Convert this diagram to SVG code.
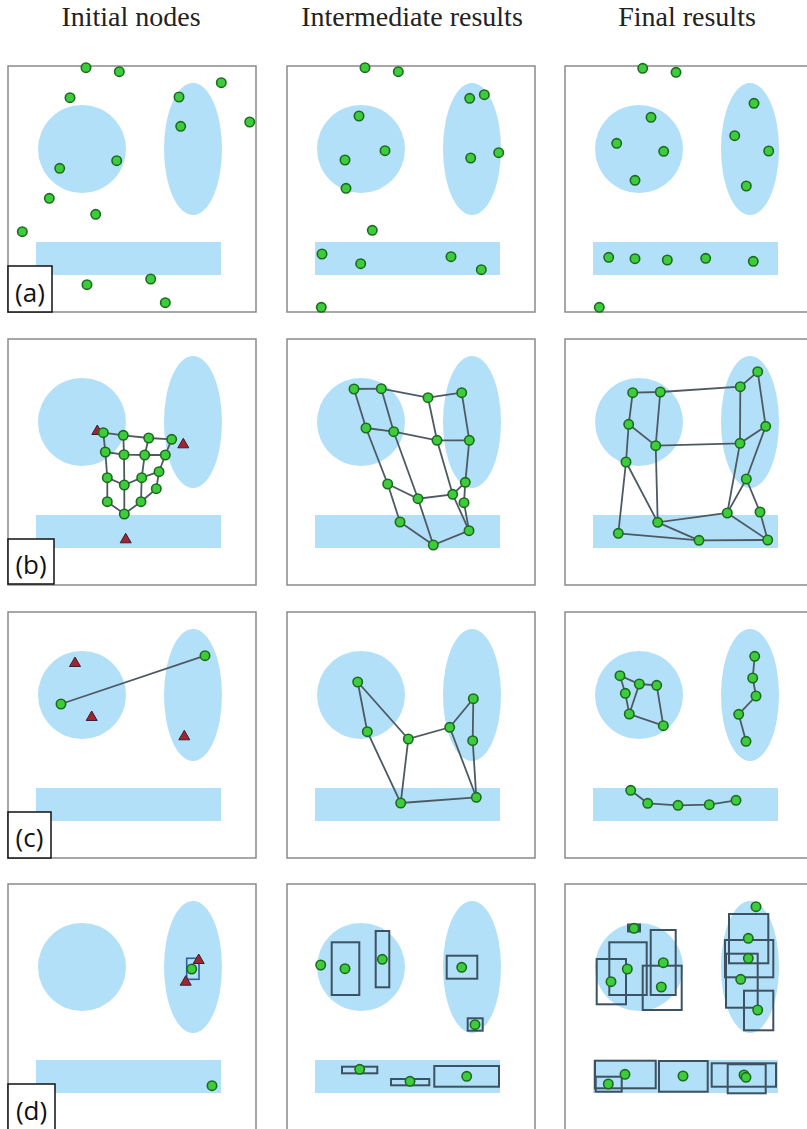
<svg xmlns="http://www.w3.org/2000/svg" xmlns:xlink="http://www.w3.org/1999/xlink" width="807" height="1129" viewBox="0 0 807 1129">
<style>
.hdr{font-family:"Liberation Serif","Times New Roman",serif;font-size:28px;fill:#222;text-anchor:middle}
.lbl{font-family:"Open Sans","Noto Sans",sans-serif;font-size:26px;fill:#111;text-anchor:middle}
.frame{fill:#fff;stroke:#8a8a8a;stroke-width:1.5}
.reg{fill:#b2e0f8}
.lbox{fill:#fff;stroke:#111;stroke-width:1.5}
.nd{fill:#3ccc3c;stroke:#1d6b1d;stroke-width:1.6}
.e{stroke:#4d5a62;stroke-width:1.8;fill:none}
.bx{fill:none;stroke:#3c5262;stroke-width:2}
.bxb{fill:none;stroke:#2f5fa0;stroke-width:1.6}
</style>
<defs>
<g id="bg">
<rect class="frame" x="8" y="66" width="248" height="246"/>
<circle class="reg" cx="82" cy="149" r="44"/>
<ellipse class="reg" cx="193" cy="149" rx="29" ry="66"/>
<rect class="reg" x="36" y="242" width="185" height="33"/>
</g>
<path id="tri" d="M0,-6 L5.5,3.5 L-5.5,3.5 Z" fill="#a3232e" stroke="#3a1f3a" stroke-width="1"/>
</defs>
<rect width="807" height="1129" fill="#fff"/>
<g id="headers">
<text class="hdr" x="131" y="26">Initial nodes</text>
<text class="hdr" x="412" y="26">Intermediate results</text>
<text class="hdr" x="687" y="26">Final results</text>
</g>

<!-- Row a -->
<g id="panel-a1">
<use xlink:href="#bg"/>
<g class="nodes">
<circle class="nd" cx="86" cy="67.7" r="4.7"/><circle class="nd" cx="119.3" cy="71.7" r="4.7"/>
<circle class="nd" cx="70" cy="97.7" r="4.7"/><circle class="nd" cx="221.3" cy="82.7" r="4.7"/>
<circle class="nd" cx="179" cy="97" r="4.7"/><circle class="nd" cx="180.7" cy="126.3" r="4.7"/>
<circle class="nd" cx="249.7" cy="122" r="4.7"/><circle class="nd" cx="116.7" cy="160.7" r="4.7"/>
<circle class="nd" cx="59.7" cy="168.3" r="4.7"/><circle class="nd" cx="49.3" cy="198.3" r="4.7"/>
<circle class="nd" cx="95.7" cy="214.3" r="4.7"/><circle class="nd" cx="22.3" cy="231.7" r="4.7"/>
<circle class="nd" cx="87" cy="284.7" r="4.7"/><circle class="nd" cx="150.7" cy="279" r="4.7"/>
<circle class="nd" cx="165.3" cy="302.7" r="4.7"/>
</g>
<rect class="lbox" x="8" y="266" width="44" height="46"/>
<text class="lbl" x="30" y="302">(a)</text>
</g>
<g id="panel-a2">
<use xlink:href="#bg" transform="translate(279,0)"/>
<g class="nodes">
<circle class="nd" cx="365" cy="67.7" r="4.7"/><circle class="nd" cx="398.3" cy="71.7" r="4.7"/>
<circle class="nd" cx="469.7" cy="98.3" r="4.7"/><circle class="nd" cx="484.3" cy="94.7" r="4.7"/>
<circle class="nd" cx="359" cy="116" r="4.7"/><circle class="nd" cx="385" cy="150.7" r="4.7"/>
<circle class="nd" cx="345" cy="160" r="4.7"/><circle class="nd" cx="470.7" cy="158" r="4.7"/>
<circle class="nd" cx="498.7" cy="152.7" r="4.7"/><circle class="nd" cx="346" cy="188.3" r="4.7"/>
<circle class="nd" cx="372.3" cy="230.3" r="4.7"/><circle class="nd" cx="322" cy="254" r="4.7"/>
<circle class="nd" cx="360.7" cy="263.7" r="4.7"/><circle class="nd" cx="451" cy="256.7" r="4.7"/>
<circle class="nd" cx="481.3" cy="269.7" r="4.7"/><circle class="nd" cx="321.3" cy="307.3" r="4.7"/>
</g>
</g>
<g id="panel-a3">
<use xlink:href="#bg" transform="translate(557,0)"/>
<g class="nodes">
<circle class="nd" cx="642.7" cy="68.3" r="4.7"/><circle class="nd" cx="676" cy="72.3" r="4.7"/>
<circle class="nd" cx="754" cy="103.3" r="4.7"/><circle class="nd" cx="651" cy="117.3" r="4.7"/>
<circle class="nd" cx="616.7" cy="143.3" r="4.7"/><circle class="nd" cx="734.7" cy="135.7" r="4.7"/>
<circle class="nd" cx="663.7" cy="151.3" r="4.7"/><circle class="nd" cx="768.7" cy="151" r="4.7"/>
<circle class="nd" cx="635" cy="180.3" r="4.7"/><circle class="nd" cx="746.3" cy="186" r="4.7"/>
<circle class="nd" cx="608.7" cy="257.3" r="4.7"/><circle class="nd" cx="635" cy="258.7" r="4.7"/>
<circle class="nd" cx="667.3" cy="260" r="4.7"/><circle class="nd" cx="705.7" cy="258.3" r="4.7"/>
<circle class="nd" cx="753.3" cy="261.3" r="4.7"/><circle class="nd" cx="599.3" cy="307.3" r="4.7"/>
</g>
</g>

<!-- Row b -->
<g id="panel-b1">
<use xlink:href="#bg" transform="translate(0,273)"/>
<use xlink:href="#tri" x="97.3" y="431"/>
<use xlink:href="#tri" x="183.3" y="444.3"/>
<use xlink:href="#tri" x="125.7" y="539.3"/>
<g id="edges-b1" class="e">
<polyline points="103.3,432.7 123.3,435.3 148.7,438 171.7,439.3"/>
<polyline points="105.3,452 124,454.7 144.7,455 165.3,455"/>
<line x1="103.3" y1="432.7" x2="105.3" y2="452"/><line x1="123.3" y1="435.3" x2="124" y2="454.7"/>
<line x1="148.7" y1="438" x2="144.7" y2="455"/><line x1="171.7" y1="439.3" x2="165.3" y2="455"/>
<line x1="105.3" y1="452" x2="107.3" y2="477.7"/><line x1="124" y1="454.7" x2="124.3" y2="485"/>
<line x1="144.7" y1="455" x2="141.7" y2="477.7"/><line x1="165.3" y1="455" x2="159" y2="471.7"/>
<polyline points="107.3,477.7 124.3,485 141.7,477.7 159,471.7"/>
<line x1="159" y1="471.7" x2="156.3" y2="488.7"/>
<line x1="107.3" y1="477.7" x2="107.3" y2="501.7"/><line x1="124.3" y1="485" x2="124.3" y2="514"/>
<line x1="141.7" y1="477.7" x2="141" y2="501.7"/><line x1="156.3" y1="488.7" x2="141" y2="501.7"/>
<polyline points="107.3,501.7 124.3,514 141,501.7"/>
</g>
<g class="nodes">
<circle class="nd" cx="103.3" cy="432.7" r="4.7"/><circle class="nd" cx="123.3" cy="435.3" r="4.7"/>
<circle class="nd" cx="148.7" cy="438" r="4.7"/><circle class="nd" cx="171.7" cy="439.3" r="4.7"/>
<circle class="nd" cx="105.3" cy="452" r="4.7"/><circle class="nd" cx="124" cy="454.7" r="4.7"/>
<circle class="nd" cx="144.7" cy="455" r="4.7"/><circle class="nd" cx="165.3" cy="455" r="4.7"/>
<circle class="nd" cx="107.3" cy="477.7" r="4.7"/><circle class="nd" cx="141.7" cy="477.7" r="4.7"/>
<circle class="nd" cx="159" cy="471.7" r="4.7"/><circle class="nd" cx="124.3" cy="485" r="4.7"/>
<circle class="nd" cx="156.3" cy="488.7" r="4.7"/><circle class="nd" cx="107.3" cy="501.7" r="4.7"/>
<circle class="nd" cx="141" cy="501.7" r="4.7"/><circle class="nd" cx="124.3" cy="514" r="4.7"/>
</g>
<rect class="lbox" x="8" y="539" width="46" height="45"/>
<text class="lbl" x="31" y="574">(b)</text>
</g>
<g id="panel-b2">
<use xlink:href="#bg" transform="translate(279,273)"/>
<g id="edges-b2" class="e">
<polyline points="354,389 381.3,388.7 428,397.7 461.7,392.7"/>
<polyline points="366,428 393.7,431.7 437,440.3 469.3,440.3"/>
<line x1="354" y1="389" x2="366" y2="428"/><line x1="381.3" y1="388.7" x2="393.7" y2="431.7"/>
<line x1="428" y1="397.7" x2="437" y2="440.3"/><line x1="461.7" y1="392.7" x2="469.3" y2="440.3"/>
<line x1="366" y1="428" x2="387.7" y2="484"/><line x1="393.7" y1="431.7" x2="418" y2="498.7"/>
<line x1="437" y1="440.3" x2="452.7" y2="494.3"/><line x1="469.3" y1="440.3" x2="465.3" y2="482.3"/>
<polyline points="387.7,484 418,498.7 452.7,494.3 465.3,482.3 464,502.7 469,530.7"/>
<line x1="387.7" y1="484" x2="400" y2="522"/><line x1="418" y1="498.7" x2="433.3" y2="545"/>
<line x1="452.7" y1="494.3" x2="469" y2="530.7"/>
<polyline points="400,522 433.3,545 469,530.7"/>
</g>
<g class="nodes">
<circle class="nd" cx="354" cy="389" r="4.7"/><circle class="nd" cx="381.3" cy="388.7" r="4.7"/>
<circle class="nd" cx="428" cy="397.7" r="4.7"/><circle class="nd" cx="461.7" cy="392.7" r="4.7"/>
<circle class="nd" cx="366" cy="428" r="4.7"/><circle class="nd" cx="393.7" cy="431.7" r="4.7"/>
<circle class="nd" cx="437" cy="440.3" r="4.7"/><circle class="nd" cx="469.3" cy="440.3" r="4.7"/>
<circle class="nd" cx="387.7" cy="484" r="4.7"/><circle class="nd" cx="418" cy="498.7" r="4.7"/>
<circle class="nd" cx="452.7" cy="494.3" r="4.7"/><circle class="nd" cx="465.3" cy="482.3" r="4.7"/>
<circle class="nd" cx="464" cy="502.7" r="4.7"/><circle class="nd" cx="400" cy="522" r="4.7"/>
<circle class="nd" cx="469" cy="530.7" r="4.7"/><circle class="nd" cx="433.3" cy="545" r="4.7"/>
</g>
</g>
<g id="panel-b3">
<use xlink:href="#bg" transform="translate(557,273)"/>
<g id="edges-b3" class="e">
<polyline points="632.7,392.7 660.3,392 740.3,386.7 757.7,371.7"/>
<polyline points="628.7,424.3 655.7,445.7 740,443.3 765.7,426.3"/>
<line x1="632.7" y1="392.7" x2="628.7" y2="424.3"/><line x1="660.3" y1="392" x2="655.7" y2="445.7"/>
<line x1="740.3" y1="386.7" x2="740" y2="443.3"/><line x1="757.7" y1="371.7" x2="765.7" y2="426.3"/>
<line x1="628.7" y1="424.3" x2="626" y2="462"/><line x1="655.7" y1="445.7" x2="657.7" y2="522.3"/>
<line x1="740" y1="443.3" x2="727.3" y2="513"/><line x1="765.7" y1="426.3" x2="746.3" y2="479"/>
<polyline points="626,462 657.7,522.3 727.3,513 746.3,479 760,512 767.7,540"/>
<line x1="626" y1="462" x2="618.3" y2="533.3"/><line x1="657.7" y1="522.3" x2="699" y2="540.3"/>
<line x1="727.3" y1="513" x2="767.7" y2="540"/>
<polyline points="618.3,533.3 699,540.3 767.7,540"/>
</g>
<g class="nodes">
<circle class="nd" cx="632.7" cy="392.7" r="4.7"/><circle class="nd" cx="660.3" cy="392" r="4.7"/>
<circle class="nd" cx="740.3" cy="386.7" r="4.7"/><circle class="nd" cx="757.7" cy="371.7" r="4.7"/>
<circle class="nd" cx="628.7" cy="424.3" r="4.7"/><circle class="nd" cx="655.7" cy="445.7" r="4.7"/>
<circle class="nd" cx="740" cy="443.3" r="4.7"/><circle class="nd" cx="765.7" cy="426.3" r="4.7"/>
<circle class="nd" cx="626" cy="462" r="4.7"/><circle class="nd" cx="657.7" cy="522.3" r="4.7"/>
<circle class="nd" cx="727.3" cy="513" r="4.7"/><circle class="nd" cx="746.3" cy="479" r="4.7"/>
<circle class="nd" cx="760" cy="512" r="4.7"/><circle class="nd" cx="618.3" cy="533.3" r="4.7"/>
<circle class="nd" cx="699" cy="540.3" r="4.7"/><circle class="nd" cx="767.7" cy="540" r="4.7"/>
</g>
</g>

<!-- Row c -->
<g id="panel-c1">
<use xlink:href="#bg" transform="translate(0,546)"/>
<use xlink:href="#tri" x="75" y="663"/>
<use xlink:href="#tri" x="91.7" y="717"/>
<use xlink:href="#tri" x="184.3" y="736.3"/>
<g id="edges-c1" class="e"><line x1="61" y1="704" x2="205" y2="655.7"/></g>
<g class="nodes">
<circle class="nd" cx="61" cy="704" r="4.7"/><circle class="nd" cx="205" cy="655.7" r="4.7"/>
</g>
<rect class="lbox" x="8" y="812" width="43" height="46"/>
<text class="lbl" x="29.5" y="847">(c)</text>
</g>
<g id="panel-c2">
<use xlink:href="#bg" transform="translate(279,546)"/>
<g id="edges-c2" class="e">
<polyline points="408.3,739 357.7,682 367.3,731.7 400.7,803 408.3,739 449.7,727.3 473.3,698.7 472.7,740.7 476.3,797.3 449.7,727.3"/>
<line x1="400.7" y1="803" x2="476.3" y2="797.3"/>
</g>
<g class="nodes">
<circle class="nd" cx="357.7" cy="682" r="4.7"/><circle class="nd" cx="367.3" cy="731.7" r="4.7"/>
<circle class="nd" cx="408.3" cy="739" r="4.7"/><circle class="nd" cx="449.7" cy="727.3" r="4.7"/>
<circle class="nd" cx="473.3" cy="698.7" r="4.7"/><circle class="nd" cx="472.7" cy="740.7" r="4.7"/>
<circle class="nd" cx="400.7" cy="803" r="4.7"/><circle class="nd" cx="476.3" cy="797.3" r="4.7"/>
</g>
</g>
<g id="panel-c3">
<use xlink:href="#bg" transform="translate(557,546)"/>
<g id="edges-c3" class="e">
<polyline points="625.3,693.3 620,675.7 639.3,684 656.7,685.3 663.3,725.7 629.3,714 625.3,693.3"/>
<line x1="639.3" y1="684" x2="629.3" y2="714"/>
<polyline points="754.7,656.3 752.7,678 756,696 738.7,714.3 746,741.3"/>
<polyline points="630.7,790.3 647.7,803.3 678,805.3 709.3,804.7 736,800.3"/>
</g>
<g class="nodes">
<circle class="nd" cx="620" cy="675.7" r="4.7"/><circle class="nd" cx="639.3" cy="684" r="4.7"/>
<circle class="nd" cx="656.7" cy="685.3" r="4.7"/><circle class="nd" cx="625.3" cy="693.3" r="4.7"/>
<circle class="nd" cx="629.3" cy="714" r="4.7"/><circle class="nd" cx="663.3" cy="725.7" r="4.7"/>
<circle class="nd" cx="754.7" cy="656.3" r="4.7"/><circle class="nd" cx="752.7" cy="678" r="4.7"/>
<circle class="nd" cx="756" cy="696" r="4.7"/><circle class="nd" cx="738.7" cy="714.3" r="4.7"/>
<circle class="nd" cx="746" cy="741.3" r="4.7"/>
<circle class="nd" cx="630.7" cy="790.3" r="4.7"/><circle class="nd" cx="647.7" cy="803.3" r="4.7"/>
<circle class="nd" cx="678" cy="805.3" r="4.7"/><circle class="nd" cx="709.3" cy="804.7" r="4.7"/>
<circle class="nd" cx="736" cy="800.3" r="4.7"/>
</g>
</g>

<!-- Row d -->
<g id="panel-d1">
<use xlink:href="#bg" transform="translate(0,818)"/>
<rect class="bxb" x="186.7" y="958.3" width="12.3" height="21"/>
<use xlink:href="#tri" x="185.7" y="981.7"/>
<use xlink:href="#tri" x="198.7" y="960"/>
<g class="nodes">
<circle class="nd" cx="191.7" cy="969" r="4.7"/>
<circle class="nd" cx="212" cy="1085.7" r="4.7"/>
</g>
<rect class="lbox" x="8" y="1084" width="47" height="47"/>
<text class="lbl" x="31.5" y="1120">(d)</text>
</g>
<g id="panel-d2">
<use xlink:href="#bg" transform="translate(279,818)"/>
<g class="boxes">
<rect class="bx" x="331.7" y="942.3" width="27.6" height="52.7"/>
<rect class="bx" x="375.7" y="931" width="13.6" height="56.3"/>
<rect class="bx" x="446.7" y="955.7" width="30.6" height="23"/>
<rect class="bx" x="467.7" y="1018.3" width="15" height="12.4"/>
<rect class="bx" x="342" y="1066.7" width="35.3" height="6.6"/>
<rect class="bx" x="391" y="1079" width="38.3" height="6.3"/>
<rect class="bx" x="434.3" y="1066" width="64.7" height="20.7"/>
</g>
<g class="nodes">
<circle class="nd" cx="320.7" cy="965" r="4.7"/><circle class="nd" cx="345" cy="968.7" r="4.7"/>
<circle class="nd" cx="382.3" cy="959.3" r="4.7"/><circle class="nd" cx="461.7" cy="967.3" r="4.7"/>
<circle class="nd" cx="475" cy="1024.7" r="4.7"/><circle class="nd" cx="359.7" cy="1069.3" r="4.7"/>
<circle class="nd" cx="410" cy="1081.3" r="4.7"/><circle class="nd" cx="466.7" cy="1076.3" r="4.7"/>
</g>
</g>
<g id="panel-d3">
<use xlink:href="#bg" transform="translate(557,818)"/>
<g class="boxes">
<rect class="bx" x="609.3" y="942.3" width="37.4" height="52.7"/>
<rect class="bx" x="596.7" y="959" width="29.3" height="45.3"/>
<rect class="bx" x="650.7" y="930" width="25" height="65"/>
<rect class="bx" x="642.7" y="965.7" width="39" height="44.3"/>
<rect class="bx" x="628" y="924.5" width="12" height="7"/>
<rect class="bx" x="729" y="914" width="39.3" height="49.3"/>
<rect class="bx" x="725" y="940" width="48.3" height="37.3"/>
<rect class="bx" x="726" y="953.7" width="31.7" height="54"/>
<rect class="bx" x="744" y="990.7" width="29.3" height="39.6"/>
<rect class="bx" x="595" y="1060.7" width="60.7" height="27.6"/>
<rect class="bx" x="595.7" y="1076.7" width="26" height="15"/>
<rect class="bx" x="659" y="1061" width="48.7" height="30.7"/>
<rect class="bx" x="711.7" y="1063.3" width="64.3" height="23.4"/>
<rect class="bx" x="727.7" y="1064.3" width="38" height="29"/>
</g>
<g class="nodes">
<circle class="nd" cx="634" cy="928.3" r="4.7"/><circle class="nd" cx="627.3" cy="969" r="4.7"/>
<circle class="nd" cx="611" cy="981.7" r="4.7"/><circle class="nd" cx="663.3" cy="962.7" r="4.7"/>
<circle class="nd" cx="661.3" cy="987" r="4.7"/>
<circle class="nd" cx="756" cy="906.7" r="4.7"/><circle class="nd" cx="748.3" cy="938.3" r="4.7"/>
<circle class="nd" cx="748.3" cy="958.3" r="4.7"/><circle class="nd" cx="740.7" cy="979.3" r="4.7"/>
<circle class="nd" cx="757.7" cy="1010" r="4.7"/>
<circle class="nd" cx="625" cy="1074.3" r="4.7"/><circle class="nd" cx="608.3" cy="1084" r="4.7"/>
<circle class="nd" cx="683" cy="1076" r="4.7"/><circle class="nd" cx="744" cy="1075" r="4.7"/>
<circle class="nd" cx="746" cy="1077.3" r="4.7"/>
</g>
</g>
</svg>
